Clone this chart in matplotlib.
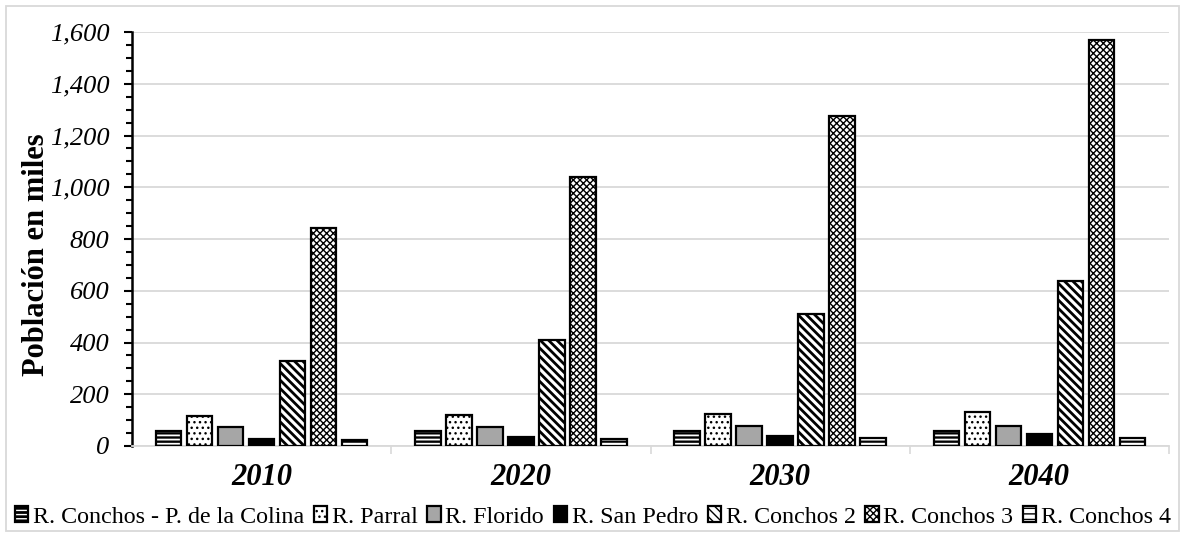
import matplotlib
matplotlib.use("Agg")
import matplotlib.pyplot as plt
import numpy as np
from matplotlib.ticker import MultipleLocator, FuncFormatter, FixedLocator
from matplotlib.legend_handler import HandlerTuple
from matplotlib.patches import Rectangle

years = ["2010", "2020", "2030", "2040"]
series_names = [
    "R. Conchos - P. de la Colina",
    "R. Parral",
    "R. Florido",
    "R. San Pedro",
    "R. Conchos 2",
    "R. Conchos 3",
    "R. Conchos 4",
]
conchos_colina = [58, 58, 58, 58]
parral = [115, 120, 124, 130]
florido = [73, 73, 76, 78]
san_pedro = [28, 33, 40, 47]
conchos_2 = [327, 408, 510, 637]
conchos_3 = [843, 1038, 1277, 1569]
conchos_4 = [25, 27, 30, 31]
values = [conchos_colina, parral, florido, san_pedro, conchos_2, conchos_3, conchos_4]

# (face colour, hatch colour, hatch pattern, hatch linewidth)
styles = [
    ("black", "white", "----", 1.3),
    ("white", "black", "...", 1.0),
    ("#a6a6a6", "#a6a6a6", None, 1.0),
    ("black", "black", None, 1.0),
    ("white", "black", "\\\\\\\\", 2.0),
    ("white", "black", "xxxxx", 1.0),
    ("white", "black", "---", 1.6),
]

plt.rcParams["font.family"] = ["Liberation Serif", "DejaVu Serif"]

W, H = 1186, 536
left, right, top, bottom = 132, 1169, 32, 446
fig = plt.figure(figsize=(W / 100, H / 100), dpi=100)
ax = fig.add_axes([left / W, 1 - bottom / H, (right - left) / W, (bottom - top) / H])

x = np.arange(len(years))
n = len(series_names)
group_px = (right - left) / len(years)
pitch = 31 / group_px
width = 25.4 / group_px
handles = []
for i, (name, vals) in enumerate(zip(series_names, values)):
    face, hcol, hatch, hlw = styles[i]
    pos = x + (i - (n - 1) / 2) * pitch
    with plt.rc_context({"hatch.linewidth": hlw, "hatch.color": hcol}):
        fill = ax.bar(pos, vals, width, color=face, edgecolor=hcol, hatch=hatch,
                      linewidth=0, zorder=3)
    outline = ax.bar(pos, vals, width, fill=False, edgecolor="black",
                     linewidth=1.6, zorder=4)
    handles.append((fill.patches[0], outline.patches[0]))

ax.set_xlim(-0.5, len(years) - 0.5)
ax.set_ylim(0, 1600)
ax.yaxis.set_major_locator(MultipleLocator(200))
ax.yaxis.set_minor_locator(MultipleLocator(50))
ax.yaxis.set_major_formatter(FuncFormatter(lambda v, p: f"{int(v):,}"))
ax.grid(axis="y", which="major", color="#d9d9d9", linewidth=1.3, zorder=0)

ax.tick_params(axis="y", which="major", length=5.8, width=1.5, labelsize=19, pad=10.5)
ax.tick_params(axis="y", which="minor", length=4.3, width=1.5)
for lab in ax.get_yticklabels():
    lab.set_fontstyle("italic")

ax.set_xticks(x)
ax.set_xticklabels(years, fontsize=22, fontweight="bold", fontstyle="italic")
ax.xaxis.set_minor_locator(FixedLocator([0.5, 1.5, 2.5, 3.5]))
ax.tick_params(axis="x", which="major", length=0, pad=12)
ax.tick_params(axis="x", which="minor", length=6, width=1.2, color="#d9d9d9")

for s in ["top", "right"]:
    ax.spines[s].set_visible(False)
ax.spines["left"].set_linewidth(1.8)
ax.spines["left"].set_color("black")
ax.spines["bottom"].set_color("#d9d9d9")
ax.spines["bottom"].set_linewidth(1.3)

ax.set_ylabel("Población en miles", fontsize=22, fontweight="bold")
ax.yaxis.set_label_coords((51 - left) / (right - left), (bottom - 255) / (bottom - top))

fig.legend(handles, series_names, loc="center", bbox_to_anchor=(0.5, 1 - 517 / H),
           ncol=7, frameon=False, fontsize=17.3, handlelength=0.55, handleheight=0.6,
           handletextpad=0.2, columnspacing=0.4, borderaxespad=0,
           handler_map={tuple: HandlerTuple(ndivide=1)})

# thin light-grey frame around the whole chart
fig.patches.append(Rectangle((6 / W, 5 / H), 1173 / W, 525 / H,
                             transform=fig.transFigure, fill=False,
                             edgecolor="#d9d9d9", linewidth=1.3))

fig.savefig("out.png", dpi=100)
